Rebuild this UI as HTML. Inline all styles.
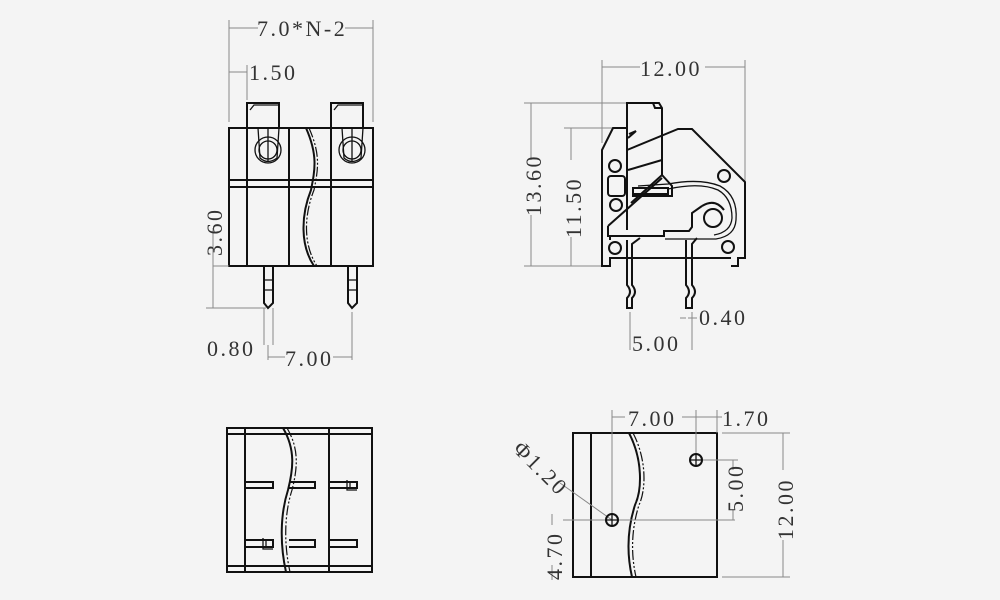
<!DOCTYPE html>
<html><head><meta charset="utf-8"><style>
html,body{margin:0;padding:0;background:#f4f4f4;}
svg{display:block;}
text{font-family:"Liberation Serif",serif;font-size:22px;fill:#333;letter-spacing:2.5px;}
.k{stroke:#111;stroke-width:2;fill:none;}
.t{stroke:#111;stroke-width:1.3;fill:none;}
.d{stroke:#888;stroke-width:1;fill:none;}
.w{stroke:#111;stroke-width:1.2;fill:none;stroke-dasharray:10 2 2 2 2 2;}
</style></head><body>
<svg width="1000" height="600" viewBox="0 0 1000 600" xmlns="http://www.w3.org/2000/svg">
<rect width="1000" height="600" fill="#f4f4f4"/>

<g>
<path class="d" d="M229 20V122M373 20V122M229 28H258M345 28H373"/>
<text x="257" y="36">7.0*N-2</text>
<path class="d" d="M229 72H247M247 65V100"/>
<text x="249" y="80">1.50</text>
<rect class="k" x="247" y="103" width="32" height="25"/>
<rect class="k" x="331" y="103" width="32" height="25"/>
<path class="t" d="M250 110L254 105H279M334 110L338 105H363"/>
<rect class="k" x="229" y="128" width="144" height="138"/>
<path class="k" d="M247 128V266M289 128V266M331 128V266M229 180H373M229 187H373"/>
<path class="k" d="M306 128C318 155 315 170 311 190C301 215 300 245 314 266"/>
<path class="w" d="M309 128C321 155 318 170 314 190C304 215 303 245 317 266"/>
<g class="t">
<circle cx="268" cy="150" r="13"/><circle cx="268" cy="150" r="9"/>
<path d="M258 128L260 158Q268 165 277 158L279 128M268 128V162"/>
<circle cx="352" cy="150" r="13"/><circle cx="352" cy="150" r="9"/>
<path d="M342 128L344 158Q352 165 361 158L363 128M352 128V162"/>
</g>
<path class="k" d="M264 266V303L268 308L273 303V266M348 266V303L352 308L357 303V266"/>
<path class="t" d="M264 280H273M264 290H273M348 280H357M348 290H357"/>
<path class="d" d="M213 228V308M206 308H266M213 266H229"/>
<text transform="translate(222,256) rotate(-90)">3.60</text>
<path class="d" d="M264 308V345M273 308V345M268 345V360M352 312V360M268 357H285M333 357H352"/>
<text x="207" y="356">0.80</text>
<text x="285" y="366">7.00</text>
</g>

<g>
<path class="d" d="M602 60V143M745 60V182M602 67H640M705 67H745"/>
<text x="640" y="76">12.00</text>
<path class="d" d="M524 103H655M531 103V160M531 215V266M524 266H602M564 128H628M571 128V160M571 237V266M564 266H602"/>
<text transform="translate(541,216) rotate(-90)">13.60</text>
<text transform="translate(581,238) rotate(-90)">11.50</text>
<path class="k" d="M602 258V150L613 128H627M627 128V103H659L662 108V175M627 150L678 129H692L745 182V258H738V266H731M731 258H610V266H602V258"/>
<path class="k" d="M627 128V230M629 134L636 131L628 138"/>
<path class="k" d="M662 108L655 108L653 103"/>
<path class="k" d="M628 170L662 160M631 203L662 175L672 186V196H632"/>
<path class="k" d="M608 226L662 178M608 226V236H664V231H689L692 227V213L702 206"/>
<path class="k" d="M610 236V240M633 188H668V194H633Z"/>
<path class="t" d="M638 186L668 184Q700 178 720 186Q738 196 736 220Q735 236 716 239H665"/>
<path class="t" d="M668 189Q700 182 718 190Q732 198 732 218Q731 232 714 235"/>
<circle class="k" cx="713" cy="218" r="9"/>
<path class="k" d="M702 206Q715 198 724 210"/>
<circle class="k" cx="615" cy="166" r="6"/>
<circle class="k" cx="616" cy="205" r="6"/>
<circle class="k" cx="615" cy="248" r="6"/>
<circle class="k" cx="724" cy="176" r="6"/>
<circle class="k" cx="728" cy="247" r="6"/>
<rect class="k" x="608" y="176" width="17" height="20" rx="3"/>
<path class="k" d="M627 240V285Q633 292 627 298V308H632V298Q638 292 632 285V244L640 238M686 240V285Q692 292 686 298V308H692V298Q698 292 692 285V244L697 238"/>
<path class="d" d="M630 312V350M692 312V350M686 318H680M692 318V312M688 318H697"/>
<text x="699" y="325">0.40</text>
<text x="632" y="351">5.00</text>
</g>

<g>
<rect class="k" x="227" y="428" width="145" height="144"/>
<path class="k" d="M227 434H372M227 566H372M245 428V572M329 428V572"/>
<path class="k" d="M283 428C296 450 293 470 288 490C280 515 280 545 286 572"/>
<path class="w" d="M287 428C300 450 297 470 292 490C284 515 284 545 290 572"/>
<path class="k" d="M245 482H273V488H245M289 482H315V488H289M329 482H357V488H329M245 540H273V547H245M289 540H315V547H289M329 540H357V547H329"/>
<path class="t" d="M347 480V490H357M350 482V488M263 538V549H273M266 540V547"/>
</g>

<g>
<rect class="k" x="573" y="433" width="144" height="144"/>
<path class="k" d="M591 433V577"/>
<path class="k" d="M629 433C643 460 642 490 635 505C627 530 627 555 632 577"/>
<path class="w" d="M633 433C647 460 646 490 639 505C631 530 631 555 636 577"/>
<path class="d" d="M612 410V520M696 410V460M717 410V433M612 417H625M682 417H717M717 417H722M696 460H738M563 520H735M722 433H790M722 577H790M783 433V470M783 540V577M733 460V470M733 510V520M552 514V525M552 565V580M560 483L612 520"/>
<text x="628" y="426">7.00</text>
<text x="722" y="426">1.70</text>
<text transform="translate(793,540) rotate(-90)">12.00</text>
<text transform="translate(743,512) rotate(-90)">5.00</text>
<text transform="translate(562,580) rotate(-90)">4.70</text>
<text transform="translate(512,450) rotate(45)">Φ1.20</text>
<circle class="k" cx="696" cy="460" r="6"/><path class="t" d="M690 460H702M696 454V466"/>
<circle class="k" cx="612" cy="520" r="6"/><path class="t" d="M606 520H618M612 514V526"/>
</g>
</svg>
</body></html>
